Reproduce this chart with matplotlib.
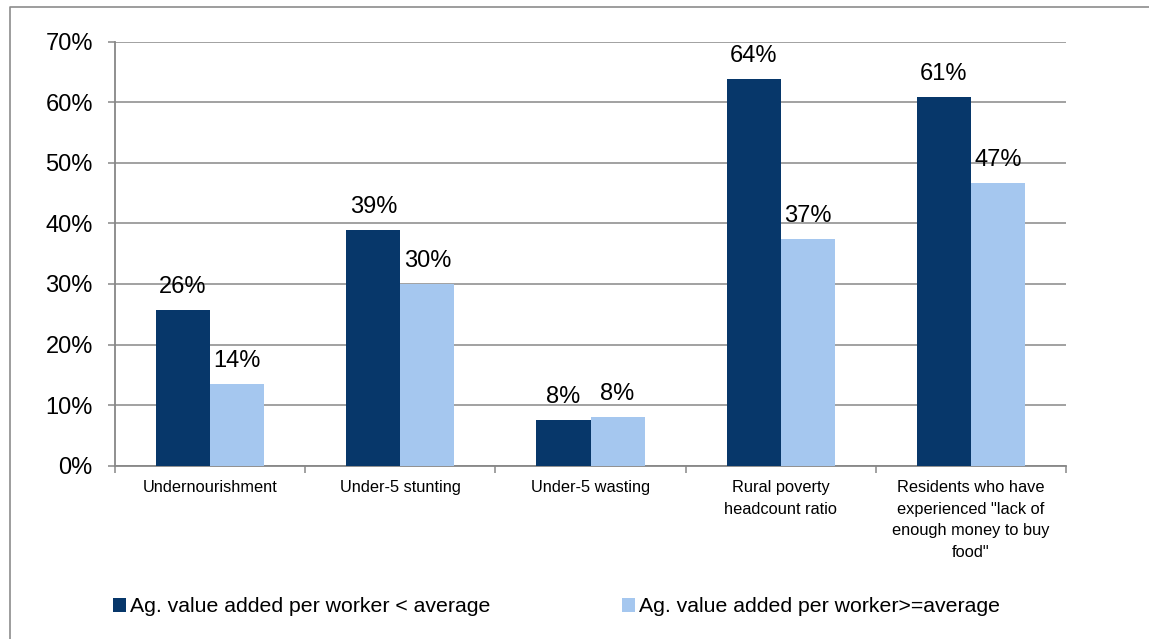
import matplotlib
matplotlib.use("Agg")
import matplotlib.pyplot as plt
from matplotlib.patches import Patch
from matplotlib.lines import Line2D
import numpy as np

categories = [
    "Undernourishment",
    "Under-5 stunting",
    "Under-5 wasting",
    "Rural poverty\nheadcount ratio",
    "Residents who have\nexperienced \"lack of\nenough money to buy\nfood\"",
]
below_avg = [0.257, 0.389, 0.076, 0.639, 0.609]
above_avg = [0.135, 0.300, 0.080, 0.374, 0.467]
series_names = [
    "Ag. value added per worker < average",
    "Ag. value added per worker>=average",
]
y_ticks = [0.0, 0.1, 0.2, 0.3, 0.4, 0.5, 0.6, 0.7]

DARK = "#07376A"
LIGHT = "#A5C7EF"
GRID = "#878787"

plt.rcParams["font.family"] = ["Liberation Sans", "DejaVu Sans"]

W, H = 1149, 639
fig = plt.figure(figsize=(W / 100, H / 100), dpi=100)
ax = fig.add_axes([115 / W, 1 - 465.7 / H, (1066 - 115) / W, (465.7 - 41.7) / H])

x = np.arange(len(categories))
bw = 0.284
b1 = ax.bar(x - bw / 2, below_avg, bw, color=DARK, zorder=3)
b2 = ax.bar(x + bw / 2, above_avg, bw, color=LIGHT, zorder=3)

for bars, vals in ((b1, below_avg), (b2, above_avg)):
    for rect, v in zip(bars, vals):
        ax.annotate(f"{v:.0%}", (rect.get_x() + rect.get_width() / 2, v),
                    xytext=(0, 12.2), textcoords="offset points",
                    ha="center", va="baseline", fontsize=17, color="black")

ax.set_xlim(-0.5, len(categories) - 0.5)
ax.set_ylim(0, 0.7)
ax.set_yticks(y_ticks)
ax.set_yticklabels([f"{t:.0%}" for t in y_ticks], fontsize=17)
ax.yaxis.grid(True, color=GRID, linewidth=1.1, zorder=0)
ax.set_axisbelow(True)

ax.set_xticks(x)
ax.set_xticklabels(categories, fontsize=11.8, linespacing=1.55)
ax.set_xticks(np.arange(-0.5, len(categories), 1.0), minor=True)
ax.tick_params(axis="x", which="major", length=0, pad=10.5)
ax.tick_params(axis="x", which="minor", length=5, width=1.1, color=GRID, direction="out")
ax.tick_params(axis="y", length=5, width=1.1, color=GRID, pad=11)

for s in ("top", "right"):
    ax.spines[s].set_visible(False)
for s in ("left", "bottom"):
    ax.spines[s].set_color(GRID)
    ax.spines[s].set_linewidth(1.3)

# outer chart-area frame
fig.add_artist(Line2D([10 / W, 10 / W, 1.0], [0.0, 1 - 7 / H, 1 - 7 / H],
                      transform=fig.transFigure, color="#8C8C8C", linewidth=1.2))

handles = [Patch(facecolor=DARK, edgecolor="none"),
           Patch(facecolor=LIGHT, edgecolor="none")]
fig.legend(handles, series_names, loc="center left",
           bbox_to_anchor=(113 / W, 1 - 607 / H), ncol=2, frameon=False,
           fontsize=15.3, handlelength=0.6, handleheight=0.6,
           handletextpad=0.2, columnspacing=6.2, borderaxespad=0, borderpad=0)

fig.savefig("out.png", dpi=100)
